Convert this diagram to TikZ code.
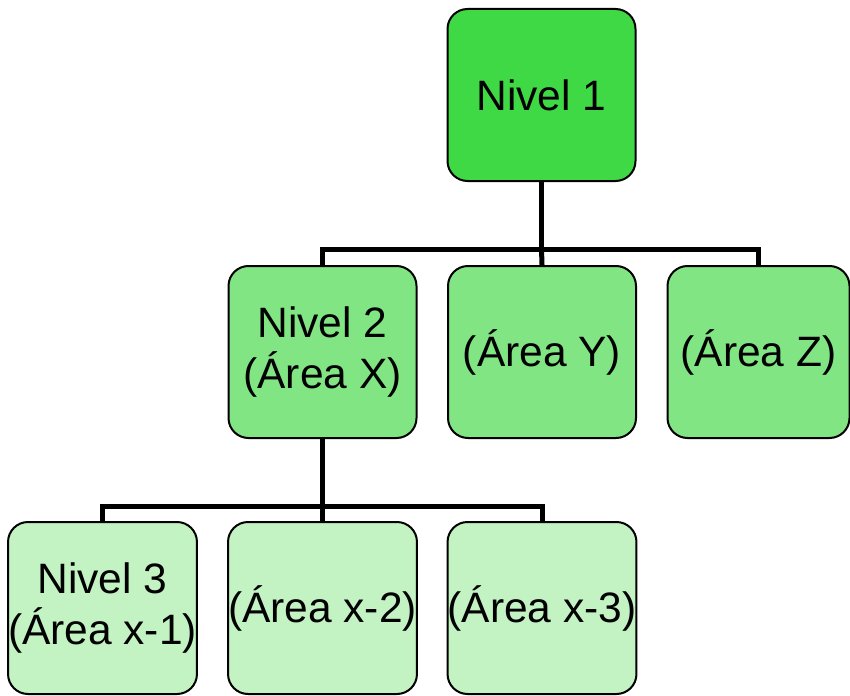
\documentclass[tikz,border=0pt]{standalone}
\usepackage{fontspec}
\setmainfont{Liberation Sans}
\usetikzlibrary{calc}
\tikzset{
  box/.style={draw, line width=2pt, rounded corners=20pt, minimum width=188pt,
    minimum height=172pt, inner sep=0pt, align=center,
    font=\fontsize{42.5}{51}\selectfont},
  conn/.style={line width=5pt}
}
\definecolor{verdeA}{HTML}{40D946}
\definecolor{verdeB}{HTML}{82E584}
\definecolor{verdeC}{HTML}{C3F2C3}
\begin{document}
\begin{tikzpicture}[x=1pt,y=-1pt]
\useasboundingbox (0,0) rectangle (850,695);
% top level
\node[box, fill=verdeA] (n1) at (541.5,95) {Nivel 1};
% second level
\node[box, fill=verdeB] (x2) at (322.5,352) {Nivel 2\\(Área X)};
\node[box, fill=verdeB] (y2) at (542,352) {(Área Y)};
\node[box, fill=verdeB, minimum width=182pt] (z2) at (758.5,352) {(Área Z)};
% third level
\node[box, fill=verdeC] (x1) at (102.5,608) {Nivel 3\\(Área x-1)};
\node[box, fill=verdeC] (x2b) at (322.5,608) {(Área x-2)};
\node[box, fill=verdeC] (x3) at (542,608) {(Área x-3)};
% connectors
\coordinate (j1) at (n1.south |- 0,249);
\draw[conn] (n1.south) -- (j1);
\draw[conn] (x2.north) |- (j1) -| (z2.north);
\draw[conn] (j1) -- (y2.north);
\coordinate (j2) at (x2.south |- 0,506);
\draw[conn] (x2.south) -- (j2);
\draw[conn] (x1.north) |- (j2) -| (x3.north);
\draw[conn] (j2) -- (x2b.north);
\end{tikzpicture}
\end{document}
